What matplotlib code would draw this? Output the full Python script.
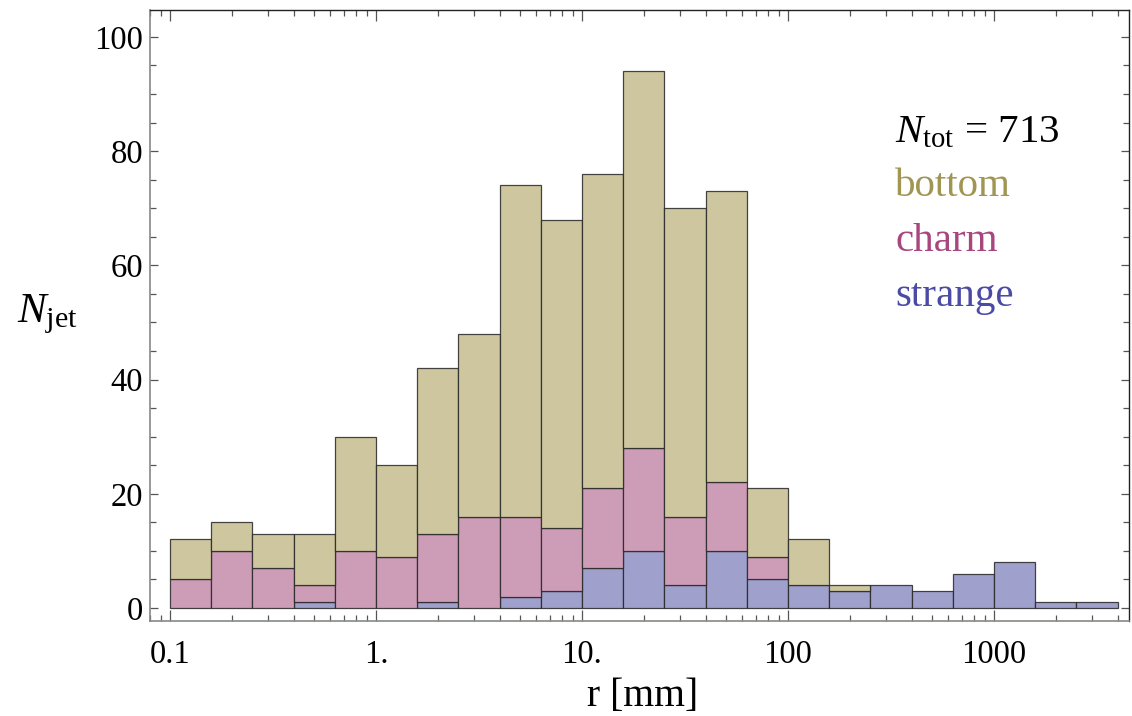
import numpy as np
import matplotlib
matplotlib.use('Agg')
import matplotlib.pyplot as plt
from matplotlib.ticker import FixedLocator, FixedFormatter, LogLocator, MultipleLocator, NullFormatter

plt.rcParams['font.family'] = ['Liberation Serif', 'DejaVu Serif']
plt.rcParams['mathtext.fontset'] = 'custom'
plt.rcParams['mathtext.rm'] = 'Liberation Serif'
plt.rcParams['mathtext.it'] = 'Liberation Serif:italic'

# log-spaced bins, 5 per decade, from 0.1 mm up to ~4 m
bin_edges = 10 ** np.linspace(-1, 3.6, 24)

# jet counts per bin (stacked: strange, charm, bottom)
strange = [0, 0, 0, 1, 0, 0, 1, 0, 2, 3, 7, 10, 4, 10, 5, 4, 3, 4, 3, 6, 8, 1, 1]
charm = [5, 10, 7, 3, 10, 9, 12, 16, 14, 11, 14, 18, 12, 12, 4, 0, 0, 0, 0, 0, 0, 0, 0]
bottom = [7, 5, 6, 9, 20, 16, 29, 32, 58, 54, 55, 66, 54, 51, 12, 8, 1, 0, 0, 0, 0, 0, 0]

x_ticks = [0.1, 1, 10, 100, 1000]
x_ticklabels = ['0.1', '1.', '10.', '100', '1000']
n_tot = sum(strange) + sum(charm) + sum(bottom)

fill_colors = {'bottom': '#cdc69e', 'charm': '#cd9db8', 'strange': '#a0a0cd'}
text_colors = {'bottom': '#a09552', 'charm': '#a8467e', 'strange': '#4b4ba6'}

fig = plt.figure(figsize=(11.32, 7.16), dpi=100)
ax = fig.add_axes([150 / 1132, 1 - 621 / 716, 979 / 1132, 611 / 716])

left = bin_edges[:-1]
widths = np.diff(bin_edges)
base = np.zeros(len(left))
for name, counts in [('strange', strange), ('charm', charm), ('bottom', bottom)]:
    counts = np.array(counts, dtype=float)
    keep = counts > 0
    ax.bar(left[keep], counts[keep], width=widths[keep], bottom=base[keep], align='edge',
           color=fill_colors[name], edgecolor=(0.15, 0.15, 0.15, 0.85), linewidth=0.9)
    base += counts

ax.set_xscale('log')
ax.set_xlim(0.08, 4520)
ax.set_ylim(-2.28, 104.7)

ax.xaxis.set_major_locator(FixedLocator(x_ticks))
ax.xaxis.set_major_formatter(FixedFormatter(x_ticklabels))
ax.xaxis.set_minor_locator(LogLocator(base=10, subs=np.arange(2, 10)))
ax.xaxis.set_minor_formatter(NullFormatter())
ax.yaxis.set_major_locator(MultipleLocator(20))
ax.yaxis.set_minor_locator(MultipleLocator(5))

ax.tick_params(which='both', direction='in', top=True, right=True, labelsize=23.5,
               color='#555555', width=0.9)
ax.tick_params(axis='x', which='major', length=8, pad=13)
ax.tick_params(axis='x', which='minor', length=4)
ax.tick_params(axis='y', which='major', length=6, pad=5)
ax.tick_params(axis='y', which='minor', length=4)

for side in ['left', 'bottom']:
    ax.spines[side].set_color('#888888')
    ax.spines[side].set_linewidth(1.2)
for side in ['top', 'right']:
    ax.spines[side].set_color('#222222')
    ax.spines[side].set_linewidth(1.0)

fig.text(17 / 1132, 1 - 322 / 716, r'$N_{\mathrm{jet}}$', fontsize=31, ha='left', va='baseline')
fig.text(643 / 1132, 10 / 716, 'r [mm]', fontsize=28.5, ha='center', va='baseline')

ax.text(0.761, 0.784, r'$N_{\mathrm{tot}}$' + ' = %d' % n_tot, transform=ax.transAxes,
        fontsize=29.5, ha='left', va='baseline')
ax.text(0.761, 0.696, 'bottom', color=text_colors['bottom'], transform=ax.transAxes,
        fontsize=29.5, ha='left', va='baseline')
ax.text(0.761, 0.606, 'charm', color=text_colors['charm'], transform=ax.transAxes,
        fontsize=29.5, ha='left', va='baseline')
ax.text(0.761, 0.5155, 'strange', color=text_colors['strange'], transform=ax.transAxes,
        fontsize=29.5, ha='left', va='baseline')

fig.savefig('out.png', dpi=100)
